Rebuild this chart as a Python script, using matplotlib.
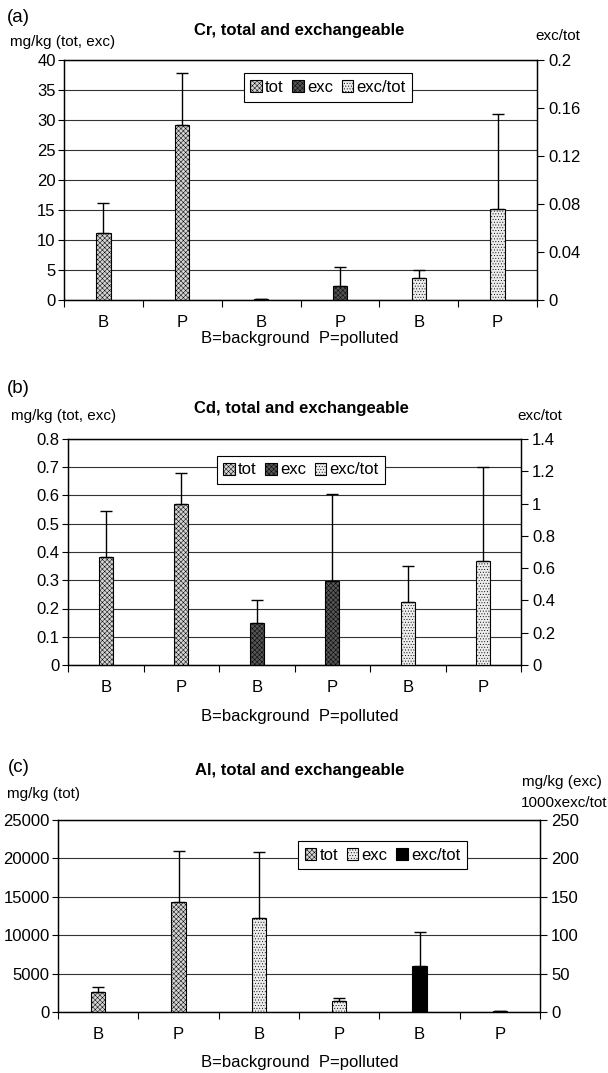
import numpy as np
import matplotlib.pyplot as plt
from matplotlib.patches import Patch

plt.rcParams['font.family'] = ['Liberation Sans', 'DejaVu Sans']
plt.rcParams['hatch.linewidth'] = 0.35

W, H = 608, 1073
cats = ['B', 'P', 'B', 'P', 'B', 'P']

# (a) Cr  -- tot, exc on left axis, exc/tot on right axis
cr_tot = [11.2, 29.1]
cr_tot_err = [4.9, 8.8]
cr_exc = [0.2, 2.4]
cr_exc_err = [0.0, 3.1]
cr_ratio = [0.018, 0.0756]
cr_ratio_err = [0.007, 0.0794]

# (b) Cd
cd_tot = [0.381, 0.571]
cd_tot_err = [0.164, 0.109]
cd_exc = [0.150, 0.297]
cd_exc_err = [0.080, 0.307]
cd_ratio = [0.390, 0.646]
cd_ratio_err = [0.225, 0.581]

# (c) Al -- tot on left axis, exc and 1000xexc/tot on right axis
al_tot = [2600, 14300]
al_tot_err = [700, 6700]
al_exc = [122, 14.7]
al_exc_err = [86, 3.1]
al_ratio = [60.3, 1.0]
al_ratio_err = [43.4, 0.0]

sty_tot = dict(facecolor='#d4d4d4', hatch='xxxxxxx', edgecolor='black', linewidth=0.8)
sty_dark = dict(facecolor='#555555', hatch='xxxxxxx', edgecolor='black', linewidth=0.8)
sty_light = dict(facecolor='#ececec', hatch='......', edgecolor='black', linewidth=0.8)
sty_black = dict(facecolor='black', edgecolor='black', linewidth=0.8)

TICK = 12
fig = plt.figure(figsize=(W / 100, H / 100), dpi=100)


def px(x, y):
    return x / W, 1 - y / H


def make_axes(left, right, top, bottom):
    ax = fig.add_axes([left / W, 1 - bottom / H, (right - left) / W, (bottom - top) / H])
    ax2 = ax.twinx()
    return ax, ax2


def style(ax, ax2, ylim, yticks, ylabels, y2lim, y2ticks, y2labels):
    ax.set_xlim(-0.5, 5.5)
    ax.set_ylim(*ylim)
    ax.set_yticks(yticks)
    ax.set_yticklabels(ylabels)
    ax2.set_ylim(*y2lim)
    ax2.set_yticks(y2ticks)
    ax2.set_yticklabels(y2labels)
    ax.set_xticks(np.arange(7) - 0.5)
    ax.set_xticklabels([])
    ax.set_xticks(np.arange(6), minor=True)
    ax.set_xticklabels(cats, minor=True)
    ax.tick_params(axis='x', which='major', length=5, width=0.8, direction='out')
    ax.tick_params(axis='x', which='minor', length=0, pad=11, labelsize=TICK)
    ax.tick_params(axis='y', length=4, width=0.8, labelsize=TICK, pad=2)
    ax2.tick_params(axis='y', length=5, width=0.8, labelsize=TICK, pad=3)
    ax.grid(axis='y', color='#333333', linewidth=0.8)
    ax.set_axisbelow(True)
    for a in (ax, ax2):
        for s in a.spines.values():
            s.set_linewidth(0.9)


def bars(ax, pos, vals, errs, sty):
    ax.bar(pos, vals, width=0.18, **sty, zorder=3)
    ax.errorbar(pos, vals, yerr=[[0] * len(vals), errs], fmt='none', ecolor='black',
                elinewidth=1, capsize=4, capthick=1, zorder=4)


def legend(ax, labels, stys, x0, y0, x1, y1):
    handles = [Patch(**s) for s in stys]
    lg = ax.legend(handles, labels, ncol=3, loc='center',
                   bbox_to_anchor=(((x0 + x1) / 2) / W, 1 - ((y0 + y1) / 2) / H),
                   bbox_transform=fig.transFigure, fontsize=12, frameon=True, fancybox=False,
                   handlelength=0.7, handleheight=0.7, handletextpad=0.2,
                   columnspacing=0.5, borderpad=0.4, edgecolor='black', framealpha=1)
    lg.get_frame().set_linewidth(0.8)
    lg.set_zorder(10)


# ---------------- (a) ----------------
ax, ax2 = make_axes(64, 537, 60, 300)
style(ax, ax2, (0, 40), range(0, 41, 5), [str(v) for v in range(0, 41, 5)],
      (0, 0.2), [0, 0.04, 0.08, 0.12, 0.16, 0.2], ['0', '0.04', '0.08', '0.12', '0.16', '0.2'])
bars(ax, [0, 1], cr_tot, cr_tot_err, sty_tot)
bars(ax, [2, 3], cr_exc, cr_exc_err, sty_dark)
bars(ax2, [4, 5], cr_ratio, cr_ratio_err, sty_light)
legend(ax2, ['tot', 'exc', 'exc/tot'], [sty_tot, sty_dark, sty_light], 242, 72, 414, 103)
fig.text(*px(7, 17), '(a)', fontsize=13.5, va='center')
fig.text(*px(299, 31), 'Cr, total and exchangeable', fontsize=12, fontweight='bold', ha='center', va='center')
fig.text(*px(10, 42), 'mg/kg (tot, exc)', fontsize=11, va='center')
fig.text(*px(580, 36), 'exc/tot', fontsize=11, va='center', ha='right')
fig.text(*px(300, 339), 'B=background  P=polluted', fontsize=12, ha='center', va='center')

# ---------------- (b) ----------------
ax, ax2 = make_axes(68, 521, 439, 665)
style(ax, ax2, (0, 0.8), np.arange(0, 0.81, 0.1), ['0'] + ['%.1f' % v for v in np.arange(0.1, 0.81, 0.1)],
      (0, 1.4), np.arange(0, 1.41, 0.2), ['0', '0.2', '0.4', '0.6', '0.8', '1', '1.2', '1.4'])
bars(ax, [0, 1], cd_tot, cd_tot_err, sty_tot)
bars(ax, [2, 3], cd_exc, cd_exc_err, sty_dark)
bars(ax2, [4, 5], cd_ratio, cd_ratio_err, sty_light)
legend(ax2, ['tot', 'exc', 'exc/tot'], [sty_tot, sty_dark, sty_light], 221, 455, 381, 485)
fig.text(*px(7, 389), '(b)', fontsize=13.5, va='center')
fig.text(*px(301, 408), 'Cd, total and exchangeable', fontsize=12, fontweight='bold', ha='center', va='center')
fig.text(*px(11, 416), 'mg/kg (tot, exc)', fontsize=11, va='center')
fig.text(*px(562, 416), 'exc/tot', fontsize=11, va='center', ha='right')
fig.text(*px(300, 716), 'B=background  P=polluted', fontsize=12, ha='center', va='center')

# ---------------- (c) ----------------
ax, ax2 = make_axes(58, 540, 820, 1012)
style(ax, ax2, (0, 25000), range(0, 25001, 5000), [str(v) for v in range(0, 25001, 5000)],
      (0, 250), range(0, 251, 50), [str(v) for v in range(0, 251, 50)])
bars(ax, [0, 1], al_tot, al_tot_err, sty_tot)
bars(ax2, [2, 3], al_exc, al_exc_err, sty_light)
bars(ax2, [4, 5], al_ratio, al_ratio_err, sty_black)
legend(ax2, ['tot', 'exc', 'exc/tot'], [sty_tot, sty_light, sty_black], 302, 840, 463, 870)
fig.text(*px(8, 768), '(c)', fontsize=13.5, va='center')
fig.text(*px(300, 770), 'Al, total and exchangeable', fontsize=12, fontweight='bold', ha='center', va='center')
fig.text(*px(7, 794), 'mg/kg (tot)', fontsize=11, va='center')
fig.text(*px(602, 782), 'mg/kg (exc)', fontsize=11, va='center', ha='right')
fig.text(*px(607, 803), '1000xexc/tot', fontsize=11, va='center', ha='right')
fig.text(*px(300, 1063), 'B=background  P=polluted', fontsize=12, ha='center', va='center')

fig.savefig('out.png', dpi=100)
